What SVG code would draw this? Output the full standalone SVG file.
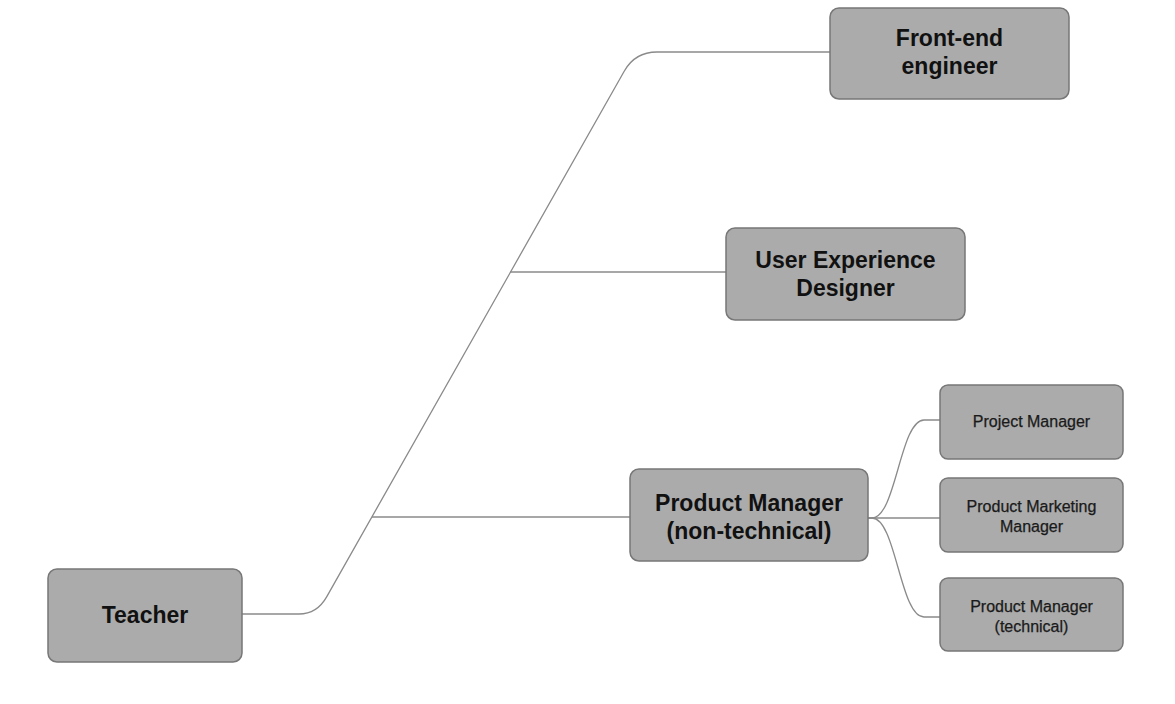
<svg xmlns="http://www.w3.org/2000/svg" width="1175" height="704" viewBox="0 0 1175 704">
<style>
.bg{fill:#ffffff}
.box{fill:#ababab;stroke:#777777;stroke-width:1.5}
.link{fill:none;stroke:#8a8a8a;stroke-width:1.3}
.main{font-family:"Liberation Sans",Arial,Helvetica,sans-serif;font-weight:bold;font-size:23px;fill:#111111;text-anchor:middle}
.sub{font-family:"Liberation Sans",Arial,Helvetica,sans-serif;font-size:16px;fill:#1a1a1a;text-anchor:middle;stroke:#1a1a1a;stroke-width:0.25}
</style>
<rect class="bg" x="0" y="0" width="1175" height="704"/>
<g id="connectors">
  <path class="link" d="M242,614 L299,614 Q317,614 326.8,596.6 L624.2,71.2 Q635,52 657,52 L830,52"/>
  <path class="link" d="M510,272 L726,272"/>
  <path class="link" d="M372,517 L630,517"/>
  <path class="link" d="M868,518 L872,518 C896,518 900,420 924,420 L940,420"/>
  <path class="link" d="M868,518 L940,518"/>
  <path class="link" d="M868,518 L872,518 C896,518 900,617 924,617 L940,617"/>
</g>
<g id="node-teacher">
  <rect class="box" x="48" y="569" width="194" height="93" rx="9"/>
  <text class="main" x="145" y="623">Teacher</text>
</g>
<g id="node-frontend">
  <rect class="box" x="830" y="8" width="239" height="91" rx="9"/>
  <text class="main" x="949.5" y="46">Front-end</text>
  <text class="main" x="949.5" y="74">engineer</text>
</g>
<g id="node-ux">
  <rect class="box" x="726" y="228" width="239" height="92" rx="9"/>
  <text class="main" x="845.5" y="268">User Experience</text>
  <text class="main" x="845.5" y="296">Designer</text>
</g>
<g id="node-pm">
  <rect class="box" x="630" y="469" width="238" height="92" rx="9"/>
  <text class="main" x="749" y="511">Product Manager</text>
  <text class="main" x="749" y="539">(non-technical)</text>
</g>
<g id="node-project-manager">
  <rect class="box" x="940" y="385" width="183" height="74" rx="8"/>
  <text class="sub" x="1031.5" y="427">Project Manager</text>
</g>
<g id="node-product-marketing">
  <rect class="box" x="940" y="478" width="183" height="74" rx="8"/>
  <text class="sub" x="1031.5" y="512">Product Marketing</text>
  <text class="sub" x="1031.5" y="532">Manager</text>
</g>
<g id="node-pm-technical">
  <rect class="box" x="940" y="578" width="183" height="73" rx="8"/>
  <text class="sub" x="1031.5" y="612">Product Manager</text>
  <text class="sub" x="1031.5" y="632">(technical)</text>
</g>
</svg>
